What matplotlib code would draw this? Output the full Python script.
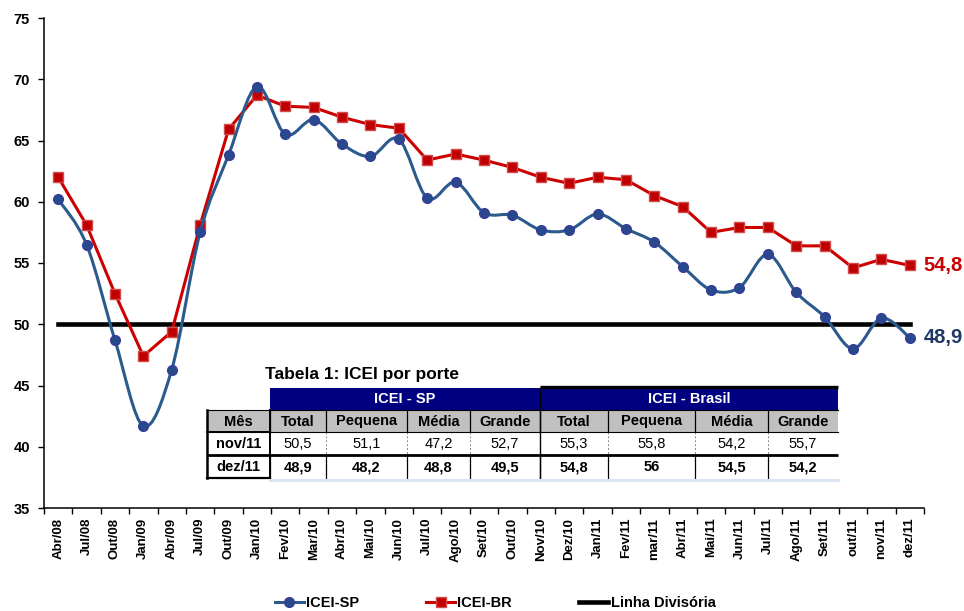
import matplotlib
matplotlib.use('Agg')
import matplotlib.pyplot as plt
from matplotlib.path import Path
from matplotlib.patches import PathPatch, Rectangle
from matplotlib.lines import Line2D
import numpy as np

# ---------------- data ----------------
months = ['Abr/08', 'Jul/08', 'Out/08', 'Jan/09', 'Abr/09', 'Jul/09', 'Out/09',
          'Jan/10', 'Fev/10', 'Mar/10', 'Abr/10', 'Mai/10', 'Jun/10', 'Jul/10',
          'Ago/10', 'Set/10', 'Out/10', 'Nov/10', 'Dez/10', 'Jan/11', 'Fev/11',
          'mar/11', 'Abr/11', 'Mai/11', 'Jun/11', 'Jul/11', 'Ago/11', 'Set/11',
          'out/11', 'nov/11', 'dez/11']
icei_sp = [60.2, 56.5, 48.7, 41.7, 46.3, 57.5, 63.8, 69.4, 65.5, 66.7, 64.7,
           63.7, 65.1, 60.3, 61.6, 59.1, 58.9, 57.7, 57.7, 59.0, 57.8, 56.7,
           54.7, 52.8, 53.0, 55.7, 52.6, 50.6, 48.0, 50.5, 48.9]
icei_br = [62.0, 58.1, 52.5, 47.4, 49.4, 58.1, 65.9, 68.7, 67.8, 67.7, 66.9,
           66.3, 66.0, 63.4, 63.9, 63.4, 62.8, 62.0, 61.5, 62.0, 61.8, 60.5,
           59.6, 57.5, 57.9, 57.9, 56.4, 56.4, 54.6, 55.3, 54.8]
linha_divisoria = 50.0
yticks = [35, 40, 45, 50, 55, 60, 65, 70, 75]

table_title = 'Tabela 1: ICEI por porte'
table_groups = ['ICEI - SP', 'ICEI - Brasil']
table_header = ['Mês', 'Total', 'Pequena', 'Média', 'Grande',
                'Total', 'Pequena', 'Média', 'Grande']
row_nov = ['nov/11', '50,5', '51,1', '47,2', '52,7', '55,3', '55,8', '54,2', '55,7']
row_dez = ['dez/11', '48,9', '48,2', '48,8', '49,5', '54,8', '56', '54,5', '54,2']

# ---------------- style ----------------
BLUE_LINE = '#2b5a8c'
BLUE_MK = '#264a8a'
BLUE_EDGE = '#3a3c9c'
RED_LINE = '#cc0000'
RED_MK = '#c00000'
RED_EDGE = '#d24a4a'
NAVY = '#000080'
GREY = '#c0c0c0'
FONT = 'Liberation Sans'

plt.rcParams['font.family'] = [FONT, 'DejaVu Sans']

W, H = 964, 611
fig = plt.figure(figsize=(W / 100, H / 100), dpi=100)
ax = fig.add_axes([44 / W, 103 / H, 880 / W, 490 / H])

x = np.arange(len(months))


def smooth_path(xs, ys):
    pts = np.column_stack([xs, ys]).astype(float)
    verts = [pts[0]]
    codes = [Path.MOVETO]
    n = len(pts)
    for i in range(n - 1):
        p0 = pts[i - 1] if i > 0 else pts[i]
        p1 = pts[i]
        p2 = pts[i + 1]
        p3 = pts[i + 2] if i + 2 < n else pts[i + 1]
        c1 = p1 + (p2 - p0) / 6.0
        c2 = p2 - (p3 - p1) / 6.0
        verts += [c1, c2, p2]
        codes += [Path.CURVE4] * 3
    return Path(verts, codes)


# divisória
ax.plot(x, [linha_divisoria] * len(x), color='black', lw=3.3, zorder=2,
        solid_capstyle='projecting')
# ICEI-BR (straight segments)
ax.plot(x, icei_br, color=RED_LINE, lw=2.2, marker='s', ms=7,
        mfc=RED_MK, mec=RED_EDGE, mew=1, zorder=3)
# ICEI-SP (smoothed)
ax.add_patch(PathPatch(smooth_path(x, icei_sp), fill=False, ec=BLUE_LINE,
                       lw=2.2, zorder=4))
ax.plot(x, icei_sp, ls='none', marker='o', ms=7, mfc=BLUE_MK, mec=BLUE_EDGE,
        mew=1, zorder=5)

ax.set_xlim(-0.5, len(months) - 0.5)
ax.set_ylim(35, 75)
ax.set_yticks(yticks)
ax.set_yticklabels([str(v) for v in yticks], fontsize=10.5, fontweight='bold')
ax.set_xticks(np.arange(-0.5, len(months), 1.0))
ax.set_xticklabels([])
ax.set_xticks(x, minor=True)
ax.set_xticklabels(months, minor=True, rotation=90, fontsize=9.5,
                   fontweight='bold', va='top', ha='center')
ax.tick_params(axis='x', which='major', direction='out', length=4, width=1)
ax.tick_params(axis='x', which='minor', length=0, pad=7)
ax.tick_params(axis='y', direction='out', length=4, width=1, pad=6)
for s in ['top', 'right']:
    ax.spines[s].set_visible(False)
for s in ['left', 'bottom']:
    ax.spines[s].set_linewidth(1.1)

# end labels
ax.annotate(f'{icei_br[-1]:.1f}'.replace('.', ','), (x[-1], icei_br[-1]),
            xytext=(10, 0), textcoords='offset points', va='center', ha='left',
            fontsize=14.5, fontweight='bold', color=RED_LINE)
ax.annotate(f'{icei_sp[-1]:.1f}'.replace('.', ','), (x[-1], icei_sp[-1]),
            xytext=(10, 0), textcoords='offset points', va='center', ha='left',
            fontsize=14.5, fontweight='bold', color='#1f3864')

# legend
handles = [
    Line2D([], [], color=BLUE_LINE, lw=2.2, marker='o', ms=7, mfc=BLUE_MK, mec=BLUE_EDGE),
    Line2D([], [], color=RED_LINE, lw=2.2, marker='s', ms=7, mfc=RED_MK, mec=RED_EDGE),
    Line2D([], [], color='black', lw=3.3),
]
fig.legend(handles, ['ICEI-SP', 'ICEI-BR', 'Linha Divisória'], loc='center',
           bbox_to_anchor=(495 / W, 1 - 603 / H), ncol=3, frameon=False,
           prop={'family': FONT, 'weight': 'bold', 'size': 10.5},
           handlelength=2.0, handletextpad=0.15, columnspacing=4.6)

# ---------------- table overlay ----------------
ov = fig.add_axes([0, 0, 1, 1], zorder=10)
ov.set_xlim(0, W)
ov.set_ylim(H, 0)
ov.axis('off')
ov.patch.set_alpha(0)

edges = [207, 270, 326, 407, 470, 540, 608, 695, 768, 838]
r_title = 374
r_nav = (388, 410)
r_grey = (410, 432)
r_nov = (432, 455)
r_dez = (455, 478)

ov.text(265, r_title, table_title, fontsize=12.5, fontweight='bold',
        va='center', ha='left', family=FONT)

# navy header
ov.add_patch(Rectangle((edges[1], r_nav[0]), edges[5] - edges[1], r_nav[1] - r_nav[0],
                       fc=NAVY, ec='none'))
ov.add_patch(Rectangle((edges[5], r_nav[0]), edges[9] - edges[5], r_nav[1] - r_nav[0],
                       fc=NAVY, ec='none'))
ov.plot([edges[5], edges[9]], [r_nav[0] - 1, r_nav[0] - 1], color='black', lw=2.4,
        solid_capstyle='butt')
ov.text((edges[1] + edges[5]) / 2, sum(r_nav) / 2, table_groups[0], color='white',
        fontsize=10.5, fontweight='bold', ha='center', va='center', family=FONT)
ov.text((edges[5] + edges[9]) / 2, sum(r_nav) / 2, table_groups[1], color='white',
        fontsize=10.5, fontweight='bold', ha='center', va='center', family=FONT)

# grey header row
ov.add_patch(Rectangle((edges[0], r_grey[0]), edges[9] - edges[0], r_grey[1] - r_grey[0],
                       fc=GREY, ec='none'))
for i, lab in enumerate(table_header):
    ov.text((edges[i] + edges[i + 1]) / 2, sum(r_grey) / 2 + 0.5, lab, fontsize=10.5,
            fontweight='bold', ha='center', va='center', family=FONT)
    ov.text((edges[i] + edges[i + 1]) / 2, sum(r_nov) / 2 + 0.5, row_nov[i],
            fontsize=10.5, fontweight='bold' if i == 0 else 'normal',
            ha='center', va='center', family=FONT)
    ov.text((edges[i] + edges[i + 1]) / 2, sum(r_dez) / 2 + 0.5, row_dez[i],
            fontsize=10.5, fontweight='bold', ha='center', va='center', family=FONT)

# grid lines
for e in edges[1:-1]:
    ov.plot([e, e], [r_grey[0], r_grey[1]], color='black', lw=0.9)
    ov.plot([e, e], [r_nov[0], r_nov[1]], color='#888888', lw=0.7, ls=(0, (2, 2)))
    ov.plot([e, e], [r_dez[0], r_dez[1]], color='black', lw=0.9)
ov.plot([edges[5], edges[5]], [r_nav[0], r_dez[1]], color='black', lw=1.0)
ov.plot([edges[0], edges[9]], [r_grey[0], r_grey[0]], color='black', lw=0.8)
ov.plot([edges[0], edges[9]], [r_grey[1], r_grey[1]], color='black', lw=0.8)
ov.plot([edges[0], edges[9]], [r_dez[0], r_dez[0]], color='black', lw=2.0,
        solid_capstyle='butt')
# Mês column borders
ov.plot([edges[0], edges[0]], [r_grey[0], r_dez[1]], color='black', lw=1.8)
ov.plot([edges[1], edges[1]], [r_grey[0], r_dez[1]], color='black', lw=1.4)
ov.plot([edges[0], edges[1]], [r_dez[1], r_dez[1]], color='black', lw=1.6)
ov.plot([edges[0], edges[1]], [r_nov[0], r_nov[0]], color='black', lw=1.4)
# faint line under the table
ov.plot([edges[1], edges[9]], [r_dez[1] + 2, r_dez[1] + 2], color='#dbe5f1', lw=2.2)

fig.savefig('out.png', dpi=100)
